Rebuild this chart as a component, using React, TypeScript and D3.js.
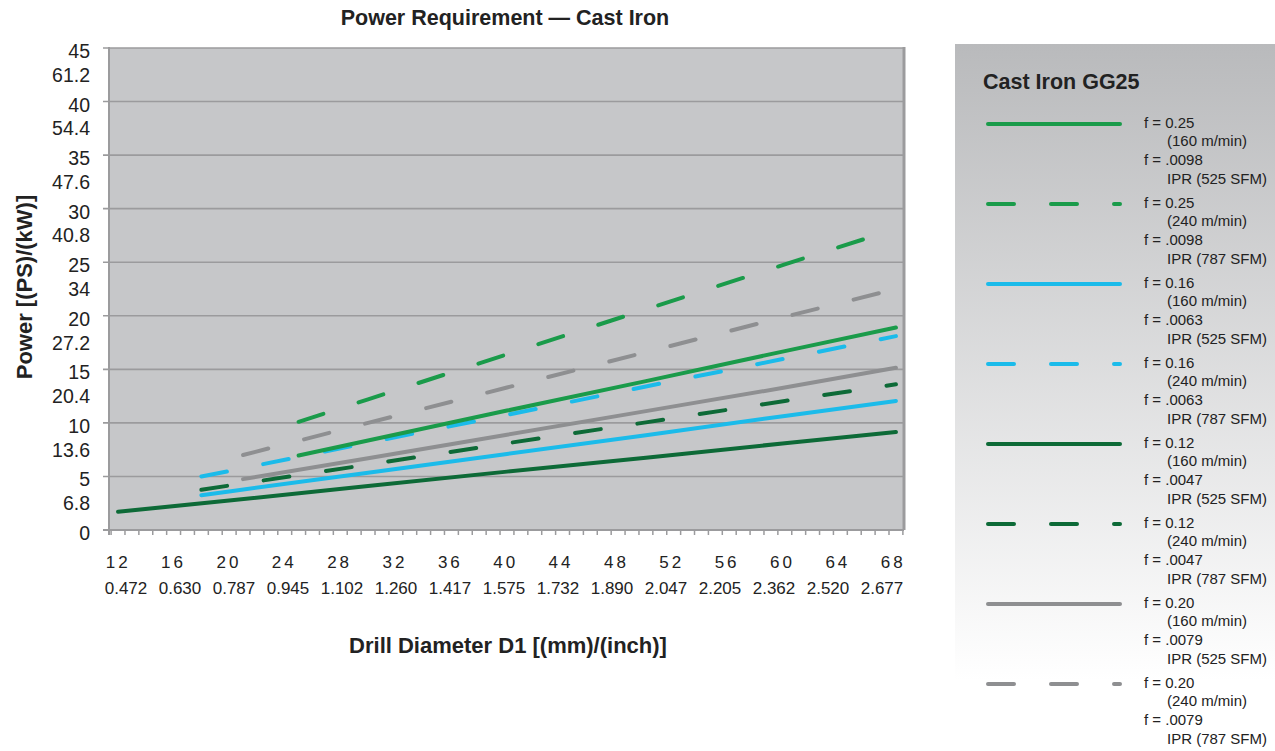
import React from "react";
import * as d3 from "d3";

// ---- Data ----
const xTickMm = [12, 16, 20, 24, 28, 32, 36, 40, 44, 48, 52, 56, 60, 64, 68];
const xTickInch = ["0.472", "0.630", "0.787", "0.945", "1.102", "1.260", "1.417", "1.575", "1.732", "1.890", "2.047", "2.205", "2.362", "2.520", "2.677"];
const yTicksPS = [0, 5, 10, 15, 20, 25, 30, 35, 40, 45];
const yLabelsKW = ["6.8", "13.6", "20.4", "27.2", "34", "40.8", "47.6", "54.4", "61.2"];

// [diameter mm, power PS]
const f025_160: [number, number][] = [[25, 6.95], [30, 8.35], [40, 11.15], [50, 13.9], [60, 16.7], [68, 18.9]];
const f025_240: [number, number][] = [[25, 10.1], [30, 12.2], [40, 16.4], [50, 20.6], [60, 24.8], [68, 28.1]];
const f016_160: [number, number][] = [[18, 3.25], [20, 3.6], [30, 5.35], [40, 7.1], [50, 8.85], [60, 10.65], [68, 12.05]];
const f016_240: [number, number][] = [[18, 5.0], [20, 5.5], [30, 8.15], [40, 10.75], [50, 13.4], [60, 16.0], [68, 18.1]];
const f012_160: [number, number][] = [[12, 1.7], [20, 2.75], [30, 4.1], [40, 5.45], [50, 6.75], [60, 8.1], [68, 9.15]];
const f012_240: [number, number][] = [[18, 3.75], [20, 4.15], [30, 6.1], [40, 8.1], [50, 10.05], [60, 12.05], [68, 13.6]];
const f020_160: [number, number][] = [[21, 4.75], [30, 6.7], [40, 8.9], [50, 11.1], [60, 13.3], [68, 15.15]];
const f020_240: [number, number][] = [[21, 7.0], [30, 10.0], [40, 13.3], [50, 16.6], [60, 19.9], [68, 22.5]];

const legendLabels = [
  ["f = 0.25", "(160 m/min)", "f = .0098", "IPR (525 SFM)"],
  ["f = 0.25", "(240 m/min)", "f = .0098", "IPR (787 SFM)"],
  ["f = 0.16", "(160 m/min)", "f = .0063", "IPR (525 SFM)"],
  ["f = 0.16", "(240 m/min)", "f = .0063", "IPR (787 SFM)"],
  ["f = 0.12", "(160 m/min)", "f = .0047", "IPR (525 SFM)"],
  ["f = 0.12", "(240 m/min)", "f = .0047", "IPR (787 SFM)"],
  ["f = 0.20", "(160 m/min)", "f = .0079", "IPR (525 SFM)"],
  ["f = 0.20", "(240 m/min)", "f = .0079", "IPR (787 SFM)"],
];

const GREEN = "#1a9b4a";
const CYAN = "#1bbbea";
const DKGREEN = "#0d6a37";
const GRAY = "#8e8f91";

const series = [
  { data: f025_160, color: GREEN, dashed: false },
  { data: f025_240, color: GREEN, dashed: true },
  { data: f016_160, color: CYAN, dashed: false },
  { data: f016_240, color: CYAN, dashed: true },
  { data: f012_160, color: DKGREEN, dashed: false },
  { data: f012_240, color: DKGREEN, dashed: true },
  { data: f020_160, color: GRAY, dashed: false },
  { data: f020_240, color: GRAY, dashed: true },
];

const FONT = "'Liberation Sans', Arial, Helvetica, sans-serif";
const DASH = "26 37";

export default function App() {
  const left = 109, right = 904, top = 48, bottom = 530;
  const x = d3.scaleLinear().domain([11.35, 68.58]).range([left, right]);
  const y = d3.scaleLinear().domain([0, 45]).range([bottom, top]);
  // label rows (category text rows, positioned independently like the source)
  const xMmLabel = d3.scaleLinear().domain([12, 68]).range([116.7, 891.7]);
  const xInchLabel = d3.scalePoint<string>().domain(xTickInch).range([126, 882]);
  const line = d3.line<[number, number]>().x((d) => x(d[0])).y((d) => y(d[1]));
  const minorTicks = d3.range(11.5, 69, 1);
  const drawOrder = [4, 5, 2, 3, 6, 7, 0, 1];

  const legX0 = 988, legX1 = 1120, legY0 = 124, legStep = 80;

  return (
    <svg width={1275} height={751} style={{ position: "absolute", left: 0, top: 0 }} fontFamily={FONT}>
      <defs>
        <linearGradient id="legbg" x1="0" y1="0" x2="0" y2="1">
          <stop offset="0" stopColor="#b9babc" />
          <stop offset="0.9" stopColor="#ffffff" />
          <stop offset="1" stopColor="#ffffff" />
        </linearGradient>
      </defs>
      <rect x={0} y={0} width={1275} height={751} fill="#fff" />

      {/* Title */}
      <text x={505} y={18} textAnchor="middle" dominantBaseline="central" fontSize={21.5} fontWeight="bold" fill="#222">
        Power Requirement — Cast Iron
      </text>

      {/* Plot background */}
      <rect x={left} y={top} width={right - left} height={bottom - top} fill="#c6c7c9" />

      {/* gridlines */}
      {yTicksPS.map((v) => (
        <line key={"g" + v} x1={left - 6} x2={right} y1={y(v)} y2={y(v)} stroke="#9b9b9d" strokeWidth={1.6} />
      ))}
      {/* axes */}
      <line x1={left} x2={left} y1={top - 1} y2={bottom + 5} stroke="#9b9b9d" strokeWidth={2} />
      <line x1={right} x2={right} y1={top - 1} y2={bottom} stroke="#9b9b9d" strokeWidth={3} />
      <line x1={left - 6} x2={right} y1={bottom} y2={bottom} stroke="#9b9b9d" strokeWidth={2} />
      {minorTicks.map((m) => (
        <line key={"t" + m} x1={x(m)} x2={x(m)} y1={bottom} y2={bottom + 5} stroke="#9b9b9d" strokeWidth={1.5} />
      ))}

      {/* Y labels */}
      {yTicksPS.map((v) => (
        <text key={"yl" + v} x={90} y={y(v) + 3} textAnchor="end" dominantBaseline="central" fontSize={19.5} fill="#222">
          {v}
        </text>
      ))}
      {yLabelsKW.map((s, i) => (
        <text key={"yk" + s} x={90} y={y(i * 5 + 2.5)} textAnchor="end" dominantBaseline="central" fontSize={19.5} fill="#222">
          {s}
        </text>
      ))}

      {/* X labels */}
      {xTickMm.map((m) => (
        <text key={"xm" + m} x={xMmLabel(m) + 1.5} y={562} textAnchor="middle" dominantBaseline="central" fontSize={17} letterSpacing={3} fill="#222">
          {m}
        </text>
      ))}
      {xTickInch.map((s) => (
        <text key={"xi" + s} x={xInchLabel(s)} y={588} textAnchor="middle" dominantBaseline="central" fontSize={17} fill="#222">
          {s}
        </text>
      ))}

      {/* Axis titles */}
      <text x={508} y={645} textAnchor="middle" dominantBaseline="central" fontSize={22} fontWeight="bold" fill="#222">
        Drill Diameter D1 [(mm)/(inch)]
      </text>
      <text transform="translate(24,287) rotate(-90)" textAnchor="middle" dominantBaseline="central" fontSize={22} fontWeight="bold" fill="#222">
        Power [(PS)/(kW)]
      </text>

      {/* Series */}
      {drawOrder.map((i) => {
        const s = series[i];
        return (
          <path key={"s" + i} d={line(s.data) || ""} fill="none" stroke={s.color} strokeWidth={4}
            strokeLinecap="round" strokeDasharray={s.dashed ? DASH : undefined} />
        );
      })}

      {/* Legend */}
      <rect x={955} y={44} width={320} height={707} fill="url(#legbg)" />
      <text x={983} y={82} dominantBaseline="central" fontSize={21.5} fontWeight="bold" fill="#222">
        Cast Iron GG25
      </text>
      {series.map((s, i) => {
        const cy = legY0 + i * legStep;
        return (
          <g key={"lg" + i}>
            <line x1={legX0} x2={legX1} y1={cy} y2={cy} stroke={s.color} strokeWidth={4} strokeLinecap="round"
              strokeDasharray={s.dashed ? DASH : undefined} />
            {legendLabels[i].map((t, k) => (
              <text key={k} x={k % 2 === 0 ? 1144 : 1167} y={cy - 2 + k * 18.8} dominantBaseline="central" fontSize={15} fill="#222">
                {t}
              </text>
            ))}
          </g>
        );
      })}
    </svg>
  );
}
